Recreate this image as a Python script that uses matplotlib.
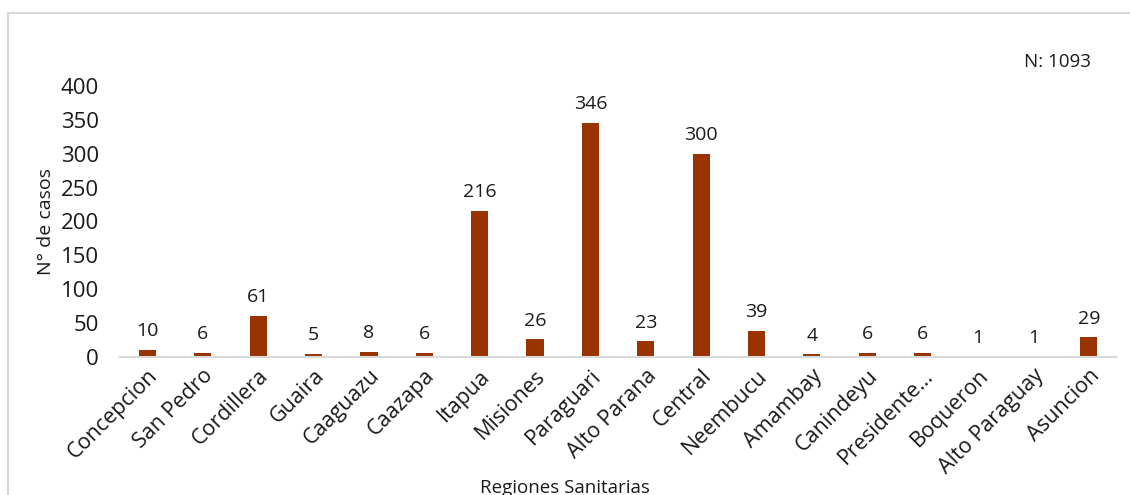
import matplotlib.pyplot as plt
from matplotlib.patches import Rectangle

plt.rcParams['font.family'] = ['Open Sans', 'DejaVu Sans']

# Datos
regiones = ['Concepcion', 'San Pedro', 'Cordillera', 'Guaira', 'Caaguazu',
            'Caazapa', 'Itapua', 'Misiones', 'Paraguari', 'Alto Parana',
            'Central', 'Neembucu', 'Amambay', 'Canindeyu', 'Presidente…',
            'Boqueron', 'Alto Paraguay', 'Asuncion']
casos = [10, 6, 61, 5, 8, 6, 216, 26, 346, 23, 300, 39, 4, 6, 6, 1, 1, 29]
total = 1093

color_barra = '#993300'
gris = '#d9d9d9'

fig = plt.figure(figsize=(11.3, 4.95), dpi=100)
ax = fig.add_axes([0.106, 0.2788, 0.882, 0.5475])

x = list(range(len(regiones)))
bars = ax.bar(x, casos, width=0.31, color=color_barra)

# Etiquetas de valores
for b, v in zip(bars, casos):
    ax.annotate(str(v), (b.get_x() + b.get_width() / 2, v),
                xytext=(0, 7), textcoords='offset points',
                ha='center', va='bottom', fontsize=14, color='#1a1a1a')

ax.set_xlim(-0.5, len(regiones) - 0.5)
ax.set_ylim(0, 400)
ax.set_yticks(range(0, 401, 50))
ax.set_xticks(x)
ax.set_xticklabels(regiones, rotation=45, ha='right', rotation_mode='anchor',
                   fontsize=15.5, color='#1a1a1a')
ax.tick_params(axis='y', labelsize=16, length=0, pad=15, colors='#1a1a1a')
ax.tick_params(axis='x', length=0, pad=6)

for s in ['top', 'right', 'left']:
    ax.spines[s].set_visible(False)
ax.spines['bottom'].set_color(gris)
ax.spines['bottom'].set_linewidth(1.5)

ax.set_ylabel('N° de casos', fontsize=14, color='#1a1a1a', labelpad=4)
fig.text(0.5, 0.014, 'Regiones Sanitarias', ha='center', va='center',
         fontsize=13.5, color='#1a1a1a')
fig.text(0.965, 0.875, 'N: ' + str(total), ha='right', va='center',
         fontsize=13.5, color='#1a1a1a')

# Marco del area del grafico
fig.patches.append(Rectangle((0.007, -0.1), 1.2, 0.9737 + 0.1,
                             transform=fig.transFigure, fill=False,
                             edgecolor=gris, linewidth=1.5))

fig.savefig('out.png', dpi=100)
